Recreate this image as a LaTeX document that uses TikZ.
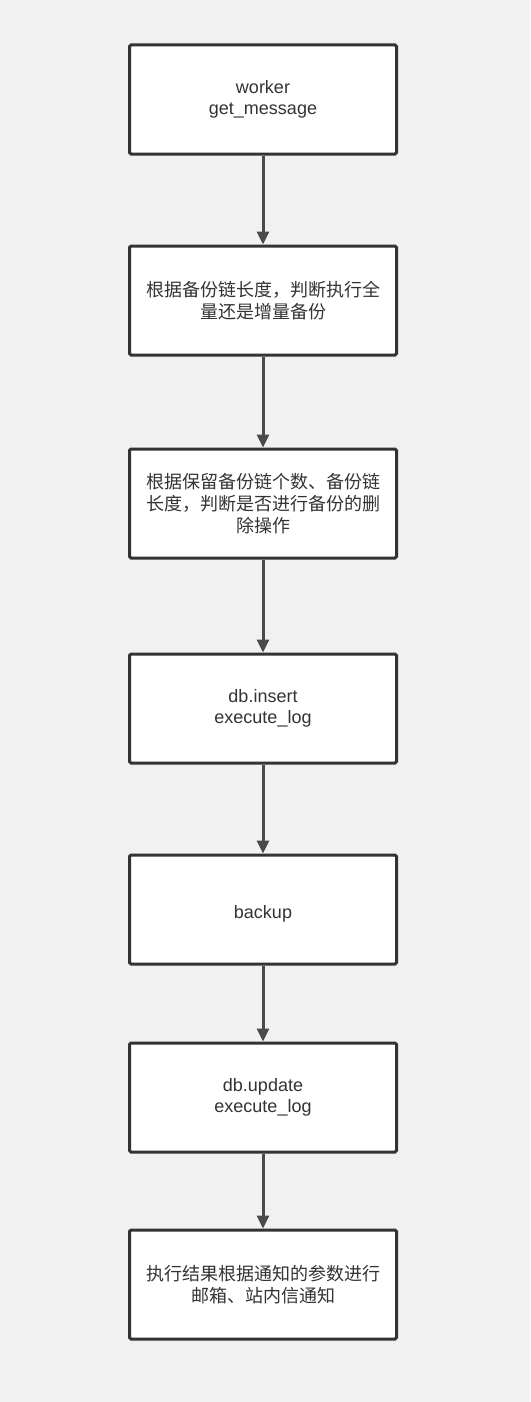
\documentclass[tikz,border=0pt]{standalone}
\usepackage{fontspec}
\setmainfont{Liberation Sans}
\newfontfamily\cjk{Noto Sans CJK SC}
\usetikzlibrary{positioning}
\usetikzlibrary{arrows.meta}
\definecolor{bggray}{HTML}{F1F1F1}
\definecolor{boxline}{HTML}{333333}
\definecolor{arrowline}{HTML}{4A4A4A}

\begin{document}
\begin{tikzpicture}[x=1pt,y=-1pt,
                          stepbox/.style={rectangle, draw=boxline, fill=white, line width=3pt, rounded corners=1.5pt,
                                          minimum width=267pt, minimum height=109pt, align=center,
                                          font=\fontsize{18pt}{21.5pt}\selectfont, text=black!80,
                                          execute at begin node={\rule{0pt}{21pt}}},
                          cjkbox/.style={stepbox, font=\cjk\fontsize{18pt}{22pt}\selectfont},
                          flowarrow/.style={draw=arrowline, line width=3pt, -{Triangle[length=13pt,width=12pt]}},
                      ]
                      \fill[bggray] (0,0) rectangle (530,1402);
                      \useasboundingbox (0,0) rectangle (530,1402);
                      %Nodes
                      \node[stepbox]      (worker)    at (263,99.5)          {worker\\get\_message};
                      \node[cjkbox]       (chain)     [below=89pt of worker]    {根据备份链长度，判断执行全\\量还是增量备份};
                      \node[cjkbox]       (delete)    [below=91pt of chain]     {根据保留备份链个数、备份链\\长度，判断是否进行备份的删\\除操作};
                      \node[stepbox]      (insert)    [below=93pt of delete]    {db.insert\\execute\_log};
                      \node[stepbox]      (backup)    [below=89pt of insert]    {backup};
                      \node[stepbox]      (update)    [below=76pt of backup]    {db.update\\execute\_log};
                      \node[cjkbox]       (notify)    [below=75pt of update]    {执行结果根据通知的参数进行\\邮箱、站内信通知};

                      %Lines
                      \draw[flowarrow] (worker.south) -- (chain.north);
                      \draw[flowarrow] (chain.south) -- (delete.north);
                      \draw[flowarrow] (delete.south) -- (insert.north);
                      \draw[flowarrow] (insert.south) -- (backup.north);
                      \draw[flowarrow] (backup.south) -- (update.north);
                      \draw[flowarrow] (update.south) -- (notify.north);
                  \end{tikzpicture}
\end{document}
